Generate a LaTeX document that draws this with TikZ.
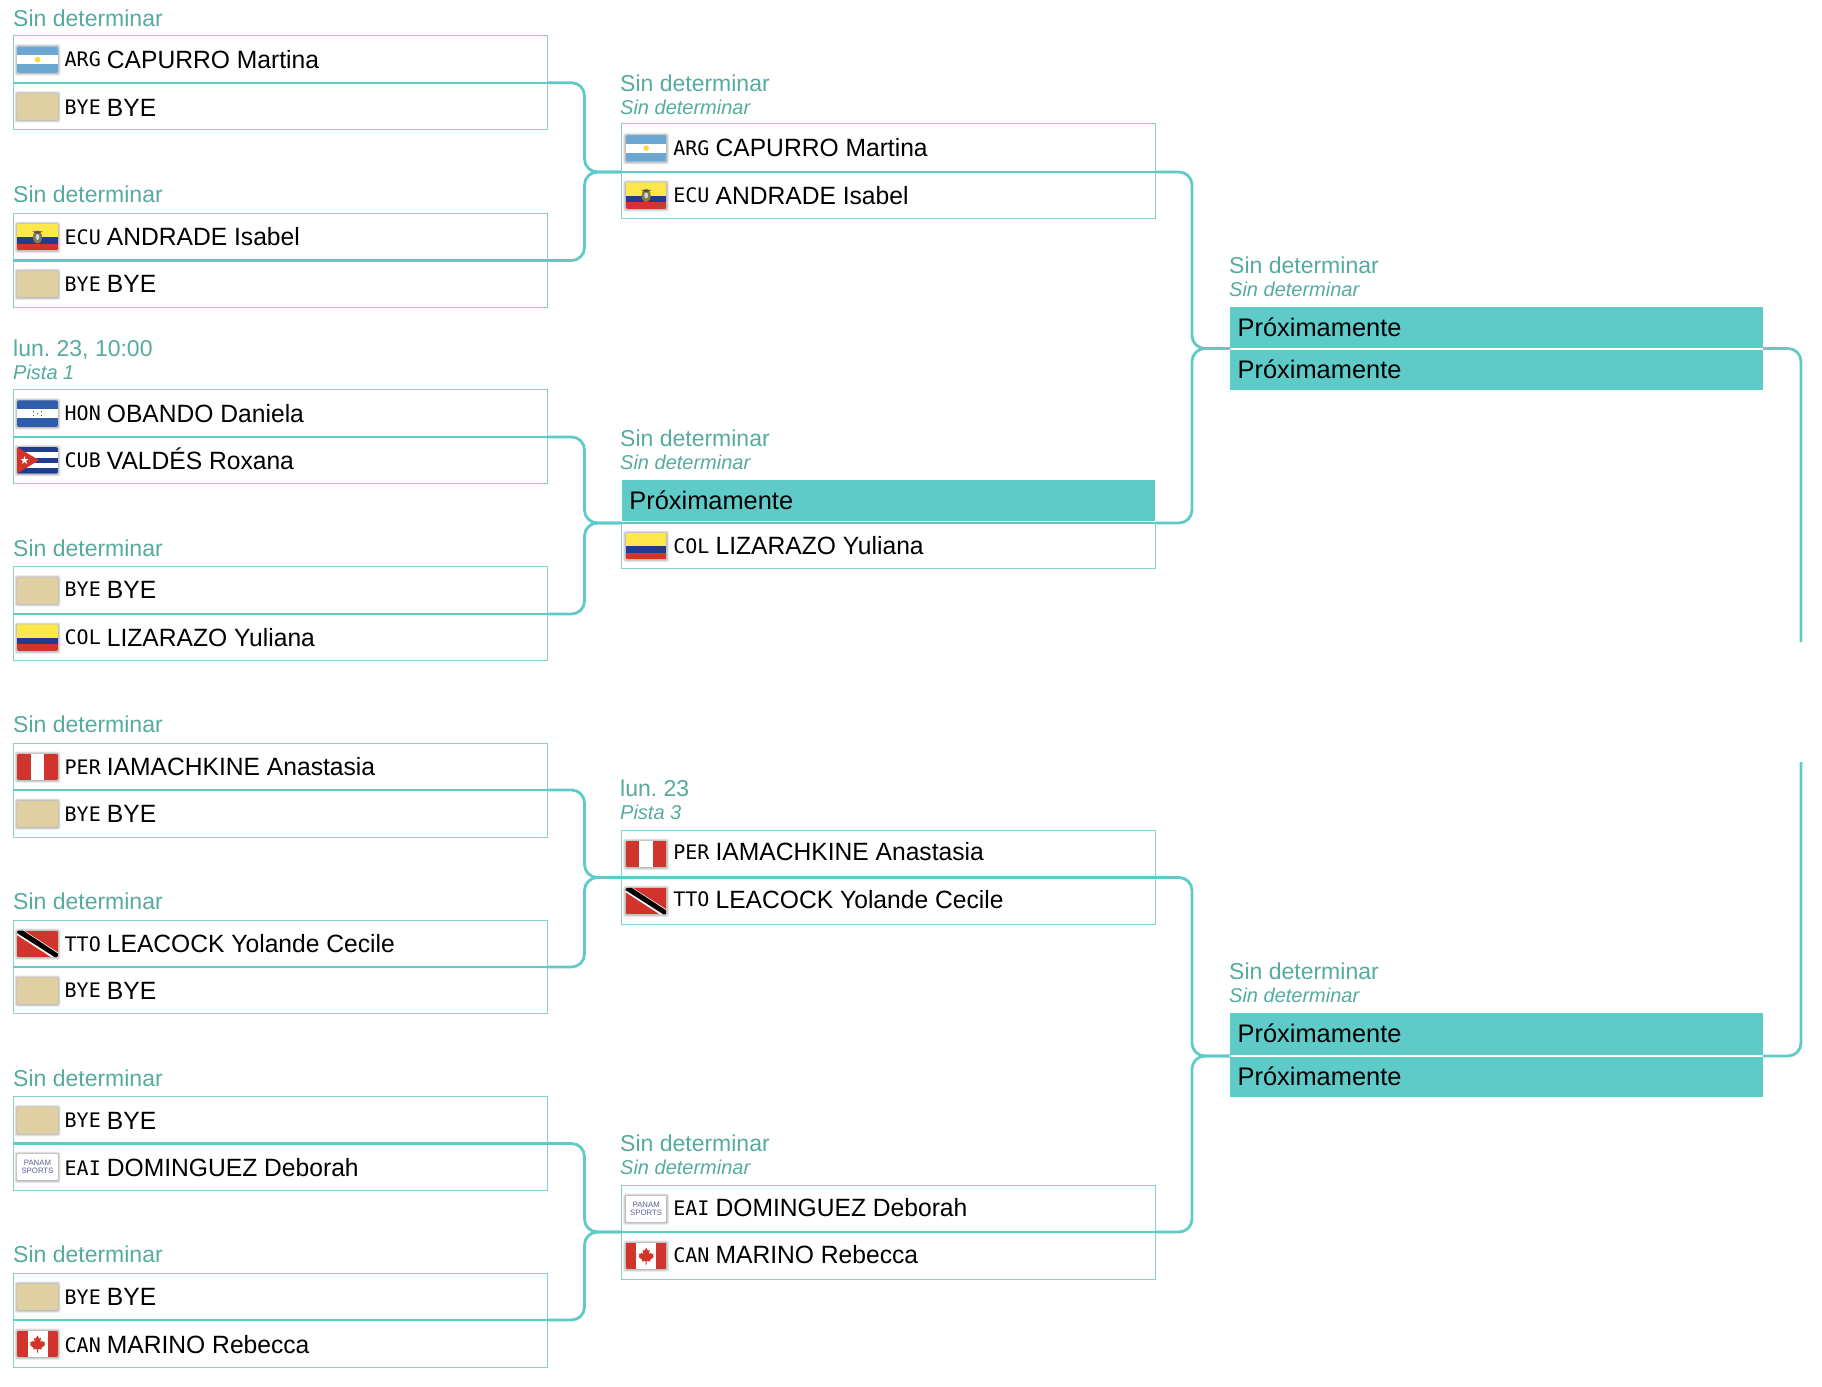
\documentclass[tikz,border=0pt]{standalone}
\usepackage{fontspec}
\setmainfont{Liberation Sans}
\newfontfamily\nmfont[FakeStretch=.985]{Liberation Sans}
\newfontfamily\codefont{DejaVu Sans Mono}
\frenchspacing
\definecolor{tealfill}{HTML}{5ECBC9}
\definecolor{boxline}{HTML}{86CFCC}
\definecolor{labelc}{HTML}{55AB9E}
\definecolor{byec}{HTML}{E0CFA1}
\definecolor{flagred}{HTML}{D1342B}
\definecolor{flagblue}{HTML}{1F3C8F}
\definecolor{hblue}{HTML}{2F5CAB}
\definecolor{ablue}{HTML}{6BA7D1}
\definecolor{fyellow}{HTML}{FDE84C}
\definecolor{pgrey}{HTML}{5C6190}
\definecolor{emblem}{HTML}{8A7A4A}
\tikzset{
  x=1pt,y=-1pt,
  rowbox/.style={draw=boxline,line width=1pt,fill=white,anchor=north west,minimum width=534pt,inner sep=0pt,outer sep=0pt},
  fillbox/.style={fill=tealfill,anchor=north west,minimum width=533pt,inner sep=0pt,outer sep=0pt},
  conn/.style={draw=tealfill,line width=2.8pt,rounded corners=13pt},
  midl/.style={draw=tealfill,line width=2.2pt},
  nametext/.style={anchor=base west,inner sep=0pt,font=\nmfont\fontsize{25}{30}\selectfont,text=black},
  prox/.style={anchor=base west,inner sep=0pt,font=\fontsize{25.4}{30}\selectfont,text=black},
  codetext/.style={anchor=base west,inner sep=0pt,font=\codefont\fontsize{20}{24}\selectfont,text=black},
  labmain/.style={anchor=base west,inner sep=0pt,font=\fontsize{23}{28}\selectfont,text=labelc},
  labsub/.style={anchor=base west,inner sep=0pt,font=\itshape\fontsize{20}{24}\selectfont,text=labelc},
}
% flags: drawn in a 41 x 26.5 box
\newcommand{\flagARG}{\fill[white] (0,0) rectangle (41,26.5);
  \fill[ablue] (0,0) rectangle (41,8.8); \fill[ablue] (0,17.7) rectangle (41,26.5);
  \fill[fyellow!85!orange] (20.5,13.25) circle (2.8pt);}
\newcommand{\flagBYE}{\fill[byec] (0,0) rectangle (41,26.5);}
\newcommand{\flagECU}{\fill[fyellow] (0,0) rectangle (41,13.25);
  \fill[flagblue] (0,13.25) rectangle (41,19.9); \fill[flagred] (0,19.9) rectangle (41,26.5);
  \fill[emblem] (20.5,13.25) ellipse (4.5pt and 6.5pt);
  \fill[black!70] (15,7.5) -- (26,7.5) -- (20.5,10) -- cycle;
  \fill[white!60!ablue] (20.5,13.25) ellipse (1.8pt and 3pt);}
\newcommand{\flagHON}{\fill[hblue] (0,0) rectangle (41,26.5);
  \fill[white] (0,8.8) rectangle (41,17.7);
  \foreach \px/\py in {20.5/13.25,16.5/11.3,24.5/11.3,16.5/15.2,24.5/15.2}{\fill[hblue] (\px,\py) circle (.7pt);}}
\newcommand{\flagCUB}{\fill[white] (0,0) rectangle (41,26.5);
  \fill[flagblue] (0,0) rectangle (41,5.3); \fill[flagblue] (0,10.6) rectangle (41,15.9); \fill[flagblue] (0,21.2) rectangle (41,26.5);
  \fill[flagred] (0,0) -- (22,13.25) -- (0,26.5) -- cycle;
  \fill[white] (7.5,9.2) -- (8.5,12) -- (11.5,12) -- (9.1,13.9) -- (10,16.8) -- (7.5,15) -- (5,16.8) -- (5.9,13.9) -- (3.5,12) -- (6.5,12) -- cycle;}
\newcommand{\flagCOL}{\fill[fyellow] (0,0) rectangle (41,13.25);
  \fill[flagblue] (0,13.25) rectangle (41,19.9); \fill[flagred] (0,19.9) rectangle (41,26.5);}
\newcommand{\flagPER}{\fill[white] (0,0) rectangle (41,26.5);
  \fill[flagred] (0,0) rectangle (13.7,26.5); \fill[flagred] (27.3,0) rectangle (41,26.5);}
\newcommand{\flagTTO}{\fill[flagred] (0,0) rectangle (41,26.5);
  \fill[white] (0,0) -- (7,0) -- (41,22) -- (41,26.5) -- (34,26.5) -- (0,4.5) -- cycle;
  \fill[black] (2.5,0) -- (6,0) -- (41,23) -- (41,26.5) -- (37.5,26.5) -- (0,2.5) -- (0,0) -- cycle;}
\newcommand{\flagEAI}{\fill[white] (0,0) rectangle (41,26.5);
  \node[inner sep=0pt,text=pgrey,align=center,font=\fontsize{7.8}{7.8}\selectfont] at (20.5,13.25) {PANAM\\SPORTS};}
\newcommand{\flagCAN}{\fill[white] (0,0) rectangle (41,26.5);
  \fill[flagred] (0,0) rectangle (10.5,26.5); \fill[flagred] (30.5,0) rectangle (41,26.5);
  \fill[flagred] (20.5,5) -- (22.2,8.2) -- (24,7.3) -- (23.3,11.7) -- (25.2,10) -- (25.8,11.5) -- (28,11.2) -- (27.2,13.7) -- (28.2,14.3) -- (24.3,17.5) -- (24.8,19) -- (21,18.5) -- (21,22) -- (20,22) -- (20,18.5) -- (16.2,19) -- (16.7,17.5) -- (12.8,14.3) -- (13.8,13.7) -- (13,11.2) -- (15.2,11.5) -- (15.8,10) -- (17.7,11.7) -- (17,7.3) -- (18.8,8.2) -- cycle;}
\def\tdy{0}
% one row of a match: id, left x, top y, bottom y, flag code, name; \tdy nudges its text
\newcommand{\Row}[6]{%
  \pgfmathsetmacro{\rh}{#4-#3}%
  \pgfmathsetmacro{\rc}{(#3+#4)/2}%
  \node[rowbox,minimum height=\rh pt] (#1) at (#2,#3) {};%
  \begin{scope}[shift={(#2+4,\rc-13)}]%
    \foreach \d in {2.5,2,1.5,1,.5}{\fill[black,opacity=.055,rounded corners=2pt] (-\d,-\d+.4) rectangle (41+\d,26.5+\d+.4);}%
    \begin{scope}
      \clip[rounded corners=1.5pt] (0,0) rectangle (41,26.5);
      \csname flag#5\endcsname
    \end{scope}%
  \end{scope}%
  \node[codetext] (#1c) at (#2+51.5,\rc+7.5+\tdy) {#5};%
  \node[nametext] (#1n) at (#2+93.7,\rc+9+\tdy) {#6};%
  \def\tdy{0}%
}
% a "Próximamente" row
\newcommand{\FRow}[4]{%
  \pgfmathsetmacro{\rh}{#4-#3}%
  \pgfmathsetmacro{\rc}{(#3+#4)/2}%
  \node[fillbox,minimum height=\rh pt] (#1) at (#2,#3) {};%
  \node[prox] (#1n) at (#2+7.5,\rc+9+\tdy) {Próximamente};%
  \def\tdy{0}%
}
\newcommand{\Lab}[5]{%
  \node[labmain] (#1) at (#2,#3) {#4};%
  \ifx&#5&\else\node[labsub] (#1s) at (#2,#3+23) {#5};\fi
}
\newcommand{\Link}[3]{\draw[conn] (#1.south east) -| (#3 |- #2.south west) -- (#2.south west);}
\begin{document}
\begin{tikzpicture}
\useasboundingbox (0,0) rectangle (1822,1386);
\fill[white] (0,0) rectangle (1822,1386);
\coordinate (colA) at (584.5,0);
\coordinate (colB) at (1192,0);
\coordinate (colC) at (1801,0);
\coordinate (stubTop) at (1801,642);
\coordinate (stubBot) at (1801,762);

% round one
\Lab{l1}{13}{26.5}{Sin determinar}{}
\Row{a1}{13}{36}{82.7}{ARG}{CAPURRO Martina}
\def\tdy{1}
\Row{a2}{13}{82.7}{130}{BYE}{BYE}
\Lab{l2}{13}{202}{Sin determinar}{}
\Row{b1}{13}{213}{260.5}{ECU}{ANDRADE Isabel}
\Row{b2}{13}{260.5}{307}{BYE}{BYE}
\Lab{l3}{13}{356}{lun. 23, 10:00}{Pista 1}
\Row{c1}{13}{389.5}{437}{HON}{OBANDO Daniela}
\Row{c2}{13}{437}{483}{CUB}{VALDÉS Roxana}
\Lab{l4}{13}{556}{Sin determinar}{}
\def\tdy{-1}
\Row{d1}{13}{566.5}{614}{BYE}{BYE}
\Row{d2}{13}{614}{660.7}{COL}{LIZARAZO Yuliana}
\Lab{l5}{13}{732}{Sin determinar}{}
\Row{e1}{13}{743}{790}{PER}{IAMACHKINE Anastasia}
\Row{e2}{13}{790}{837}{BYE}{BYE}
\Lab{l6}{13}{909}{Sin determinar}{}
\Row{f1}{13}{920}{967}{TTO}{LEACOCK Yolande Cecile}
\Row{f2}{13}{967}{1013.7}{BYE}{BYE}
\Lab{l7}{13}{1086.5}{Sin determinar}{}
\Row{g1}{13}{1096.5}{1143.5}{BYE}{BYE}
\def\tdy{1}
\Row{g2}{13}{1143.5}{1190}{EAI}{DOMINGUEZ Deborah}
\Lab{l8}{13}{1262}{Sin determinar}{}
\Row{h1}{13}{1273}{1320}{BYE}{BYE}
\def\tdy{1}
\Row{h2}{13}{1320}{1367}{CAN}{MARINO Rebecca}

% round two
\Lab{m1}{620}{91.5}{Sin determinar}{Sin determinar}
\Row{p1}{621.7}{124}{172}{ARG}{CAPURRO Martina}
\Row{p2}{621.7}{172}{218.5}{ECU}{ANDRADE Isabel}
\Lab{m2}{620}{446}{Sin determinar}{Sin determinar}
\def\tdy{-1.5}
\FRow{q1}{621.7}{480}{523}
\Row{q2}{621.7}{523}{568.3}{COL}{LIZARAZO Yuliana}
\Lab{m3}{620}{796}{lun. 23}{Pista 3}
\def\tdy{-2}
\Row{r1}{621.7}{830}{877.5}{PER}{IAMACHKINE Anastasia}
\def\tdy{-1.5}
\Row{r2}{621.7}{877.5}{924}{TTO}{LEACOCK Yolande Cecile}
\Lab{m4}{620}{1151}{Sin determinar}{Sin determinar}
\def\tdy{-1}
\Row{s1}{621.7}{1185}{1232}{EAI}{DOMINGUEZ Deborah}
\def\tdy{-1}
\Row{s2}{621.7}{1232}{1279}{CAN}{MARINO Rebecca}

% round three
\Lab{n1}{1229}{273}{Sin determinar}{Sin determinar}
\FRow{t1}{1230}{307}{348.5}
\def\tdy{.5}
\FRow{t2}{1230}{348.5}{390}
\Lab{n2}{1229}{979}{Sin determinar}{Sin determinar}
\def\tdy{-1.5}
\FRow{u1}{1230}{1013}{1056}
\FRow{u2}{1230}{1056}{1097}

% connectors
\foreach \rw in {a1,b1,c1,d1,e1,f1,g1,h1,p1,r1,s1}{\draw[midl] (\rw.south west) -- (\rw.south east);}
\draw[white,line width=1.4pt] ([yshift=1.6pt]q1.south west) -- ([yshift=1.6pt]q1.south east);
\draw[midl,line width=1.6pt] (q1.south west) -- (q1.south east);
\draw[white,line width=2pt] (t1.south west) -- (t1.south east);
\draw[white,line width=2pt] (u1.south west) -- (u1.south east);
\Link{a1}{p1}{colA}
\Link{b1}{p1}{colA}
\Link{c1}{q1}{colA}
\Link{d1}{q1}{colA}
\Link{e1}{r1}{colA}
\Link{f1}{r1}{colA}
\Link{g1}{s1}{colA}
\Link{h1}{s1}{colA}
\Link{p1}{t1}{colB}
\Link{q1}{t1}{colB}
\Link{r1}{u1}{colB}
\Link{s1}{u1}{colB}
\draw[conn] (t1.south east) -| (stubTop);
\draw[conn] (u1.south east) -| (stubBot);
\end{tikzpicture}
\end{document}
